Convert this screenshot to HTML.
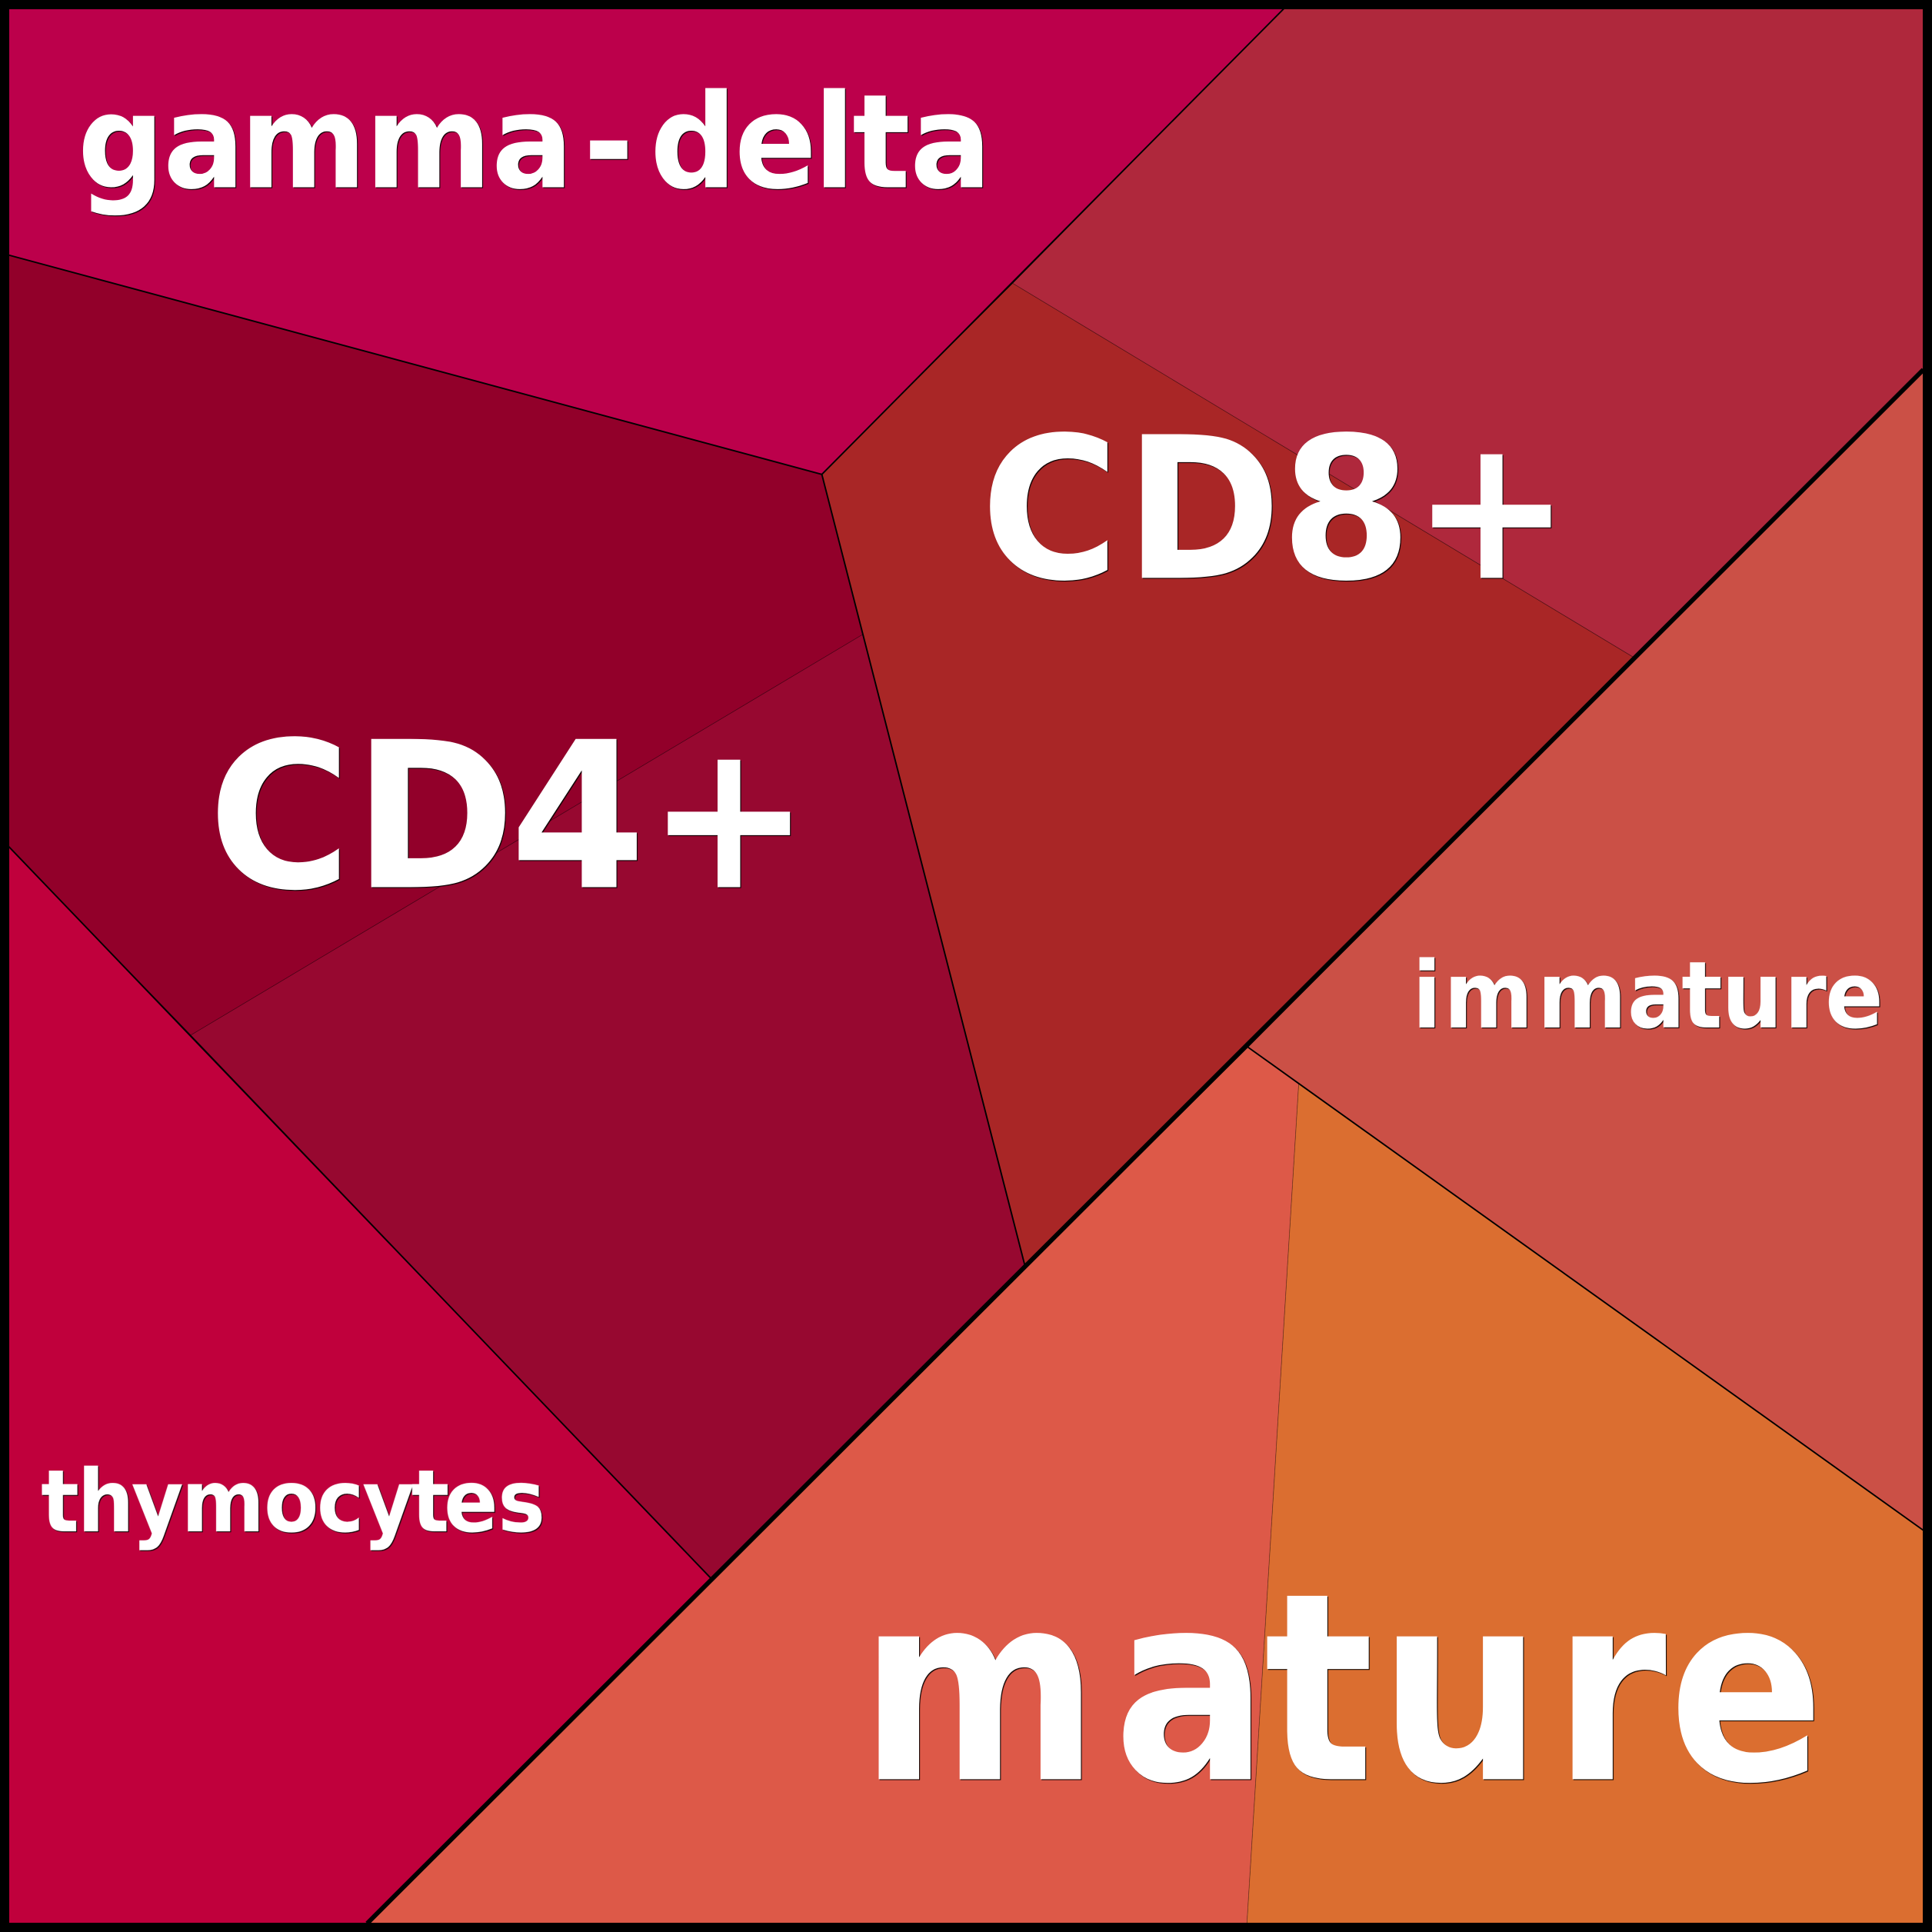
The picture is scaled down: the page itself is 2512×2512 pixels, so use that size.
<!DOCTYPE html>
<html><head><meta charset="utf-8"><style>html,body{margin:0;padding:0;background:#000}svg{display:block}</style></head>
<body>
<svg xmlns="http://www.w3.org/2000/svg" width="2512" height="2512" viewBox="0 0 1568 1568">
<defs><filter id="s" x="-5%" y="-5%" width="110%" height="110%" color-interpolation-filters="sRGB"><feDropShadow dx="0.7" dy="0.7" stdDeviation="0" flood-color="#000" flood-opacity="0.9"/></filter></defs>
<rect width="1568" height="1568" fill="#000"/>
<g>
<polygon points="7,7 1042,7 667,385 7,207" fill="#BC004B"/>
<polygon points="1042,7 1561,7 1561,300 1325,533 822,230" fill="#AF283C"/>
<polygon points="822,230 1325,533 832,1028 667,385" fill="#A92626"/>
<polygon points="7,207 667,385 700,515 155,840 7,687" fill="#92002A"/>
<polygon points="700,515 832,1028 578,1282 155,840" fill="#970830"/>
<polygon points="7,687 578,1282 298,1561 7,1561" fill="#C0003C"/>
<polygon points="1561,300 1561,1242 1054,880 1013,850" fill="#CB5046"/>
<polygon points="1013,850 1054,880 1012,1561 298,1561" fill="#DD5948"/>
<polygon points="1054,880 1561,1242 1561,1561 1012,1561" fill="#DB6E30"/>
</g>
<g fill="none" stroke="#000" stroke-width="1.2">
<path d="M7,207 L667,385 L1042,7"/>
<path d="M667,385 L832,1028"/>
<path d="M7,687 L578,1282"/>
<path d="M1013,850 L1561,1242"/>
</g>
<g fill="none" stroke="#000" stroke-width="0.5" stroke-opacity="0.45">
<path d="M822,230 L1325,533"/>
<path d="M155,840 L700,515"/>
<path d="M1054,880 L1012,1561"/>
</g>
<path d="M1561,300 L298,1561" fill="none" stroke="#000" stroke-width="3.7"/>
<rect x="3.75" y="3.75" width="1560.5" height="1560.5" fill="none" stroke="#000" stroke-width="7.5"/>
<g font-family="'DejaVu Sans','Liberation Sans',sans-serif" font-weight="bold" fill="#fff" filter="url(#s)">
<text transform="scale(.93 1)" x="67.7 142.3 209.5 318.7 428.9 509.2 567.2 640.9 710 743.8 794" y="152" font-size="106">gamma-delta</text>
<text transform="scale(.96 1)" x="829 950.7 1082.5 1193.9" y="469" font-size="160">CD8+</text>
<text transform="scale(.96 1)" x="176 298.7 431.1 547.1" y="720" font-size="165">CD4+</text>
<text transform="scale(.93 1)" x="1232.4 1259.9 1341.6 1420.1 1467.3 1502.4 1557 1592.8" y="834" font-size="75">immature</text>
<text transform="scale(.93 1)" x="35.7 67.5 114.6 158.2 230.2 276.4 316.2 358.8 387.3 434.4" y="1243" font-size="70">thymocytes</text>
<text transform="scale(.88 1)" x="792.8 1026.9 1165.9 1271.6 1432.5 1538.8" y="1444" font-size="212">mature</text>
</g>
</svg>
</body></html>
